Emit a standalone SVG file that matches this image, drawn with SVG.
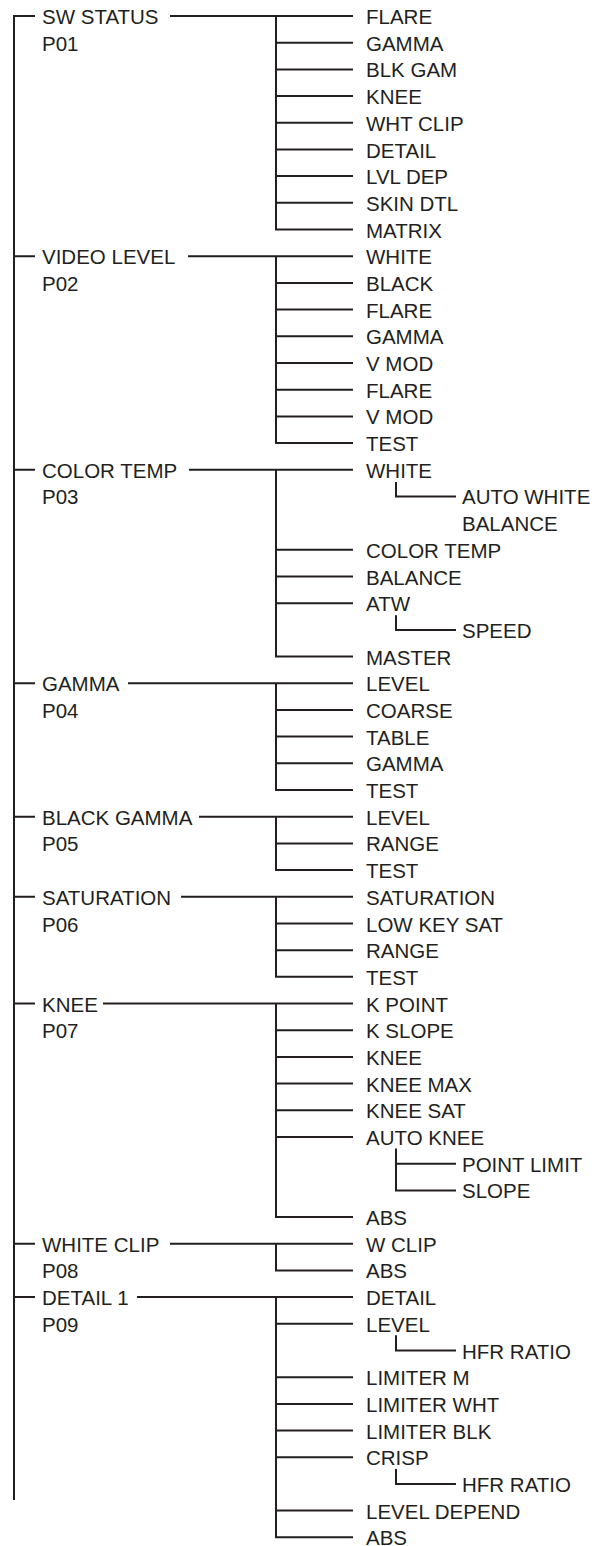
<svg xmlns="http://www.w3.org/2000/svg" width="602" height="1546" viewBox="0 0 602 1546">
<style>
.c{fill:none;stroke:#231f20;stroke-width:2;stroke-linejoin:miter;stroke-linecap:butt}
text{font-family:"Liberation Sans",Arial,Helvetica,sans-serif;font-size:20.5px;fill:#231f20}
</style>
<rect width="602" height="1546" fill="#fff"/>
<g id="connectors" class="c">
<!-- main trunk -->
<path d="M35 16H14V1500"/>
<path d="M14 256.2H35M14 469.7H35M14 683.3H35M14 816.7H35M14 896.8H35M14 1003.5H35M14 1243.7H35M14 1297.1H35"/>
<!-- P01 -->
<path d="M170 16H353M276 16V229.5H353M276 42.7H353M276 69.4H353M276 96.1H353M276 122.8H353M276 149.5H353M276 176.1H353M276 202.8H353"/>
<!-- P02 -->
<path d="M188 256.2H353M276 256.2V443H353M276 282.9H353M276 309.6H353M276 336.3H353M276 363H353M276 389.7H353M276 416.4H353"/>
<!-- P03 -->
<path d="M189 469.7H353M276 469.7V656.6H353M276 549.8H353M276 576.5H353M276 603.2H353"/>
<path d="M396 482V496.4H456M396 615.2V629.9H456"/>
<!-- P04 -->
<path d="M128 683.3H353M276 683.3V790H353M276 709.9H353M276 736.6H353M276 763.3H353"/>
<!-- P05 -->
<path d="M199 816.7H353M276 816.7V870.1H353M276 843.4H353"/>
<!-- P06 -->
<path d="M181 896.8H353M276 896.8V976.8H353M276 923.5H353M276 950.2H353"/>
<!-- P07 -->
<path d="M103 1003.5H353M276 1003.5V1217.1H353M276 1030.2H353M276 1056.9H353M276 1083.6H353M276 1110.3H353M276 1137H353"/>
<path d="M396 1148.5V1190.4H456M396 1163.7H456"/>
<!-- P08 -->
<path d="M170 1243.7H353M276 1243.7V1270.4H353"/>
<!-- P09 -->
<path d="M137 1297.1H353M276 1297.1V1537.3H353M276 1323.8H353M276 1377.2H353M276 1403.9H353M276 1430.6H353M276 1457.3H353M276 1510.6H353"/>
<path d="M396 1335.3V1350.5H456M396 1469V1484H456"/>
</g>
<g id="p01">
<text x="42" y="24">SW STATUS</text><text x="42" y="50.7">P01</text>
<text x="366" y="24">FLARE</text><text x="366" y="50.7">GAMMA</text><text x="366" y="77.4">BLK GAM</text><text x="366" y="104.1">KNEE</text><text x="366" y="130.8">WHT CLIP</text><text x="366" y="157.5">DETAIL</text><text x="366" y="184.1">LVL DEP</text><text x="366" y="210.8">SKIN DTL</text><text x="366" y="237.5">MATRIX</text>
</g>
<g id="p02">
<text x="42" y="264.2">VIDEO LEVEL</text><text x="42" y="290.9">P02</text>
<text x="366" y="264.2">WHITE</text><text x="366" y="290.9">BLACK</text><text x="366" y="317.6">FLARE</text><text x="366" y="344.3">GAMMA</text><text x="366" y="371">V MOD</text><text x="366" y="397.7">FLARE</text><text x="366" y="424.4">V MOD</text><text x="366" y="451">TEST</text>
</g>
<g id="p03">
<text x="42" y="477.7">COLOR TEMP</text><text x="42" y="504.4">P03</text>
<text x="366" y="477.7">WHITE</text><text x="462" y="504.4">AUTO WHITE</text><text x="462" y="531.1">BALANCE</text><text x="366" y="557.8">COLOR TEMP</text><text x="366" y="584.5">BALANCE</text><text x="366" y="611.2">ATW</text><text x="462" y="637.9">SPEED</text><text x="366" y="664.6">MASTER</text>
</g>
<g id="p04">
<text x="42" y="691.3">GAMMA</text><text x="42" y="717.9">P04</text>
<text x="366" y="691.3">LEVEL</text><text x="366" y="717.9">COARSE</text><text x="366" y="744.6">TABLE</text><text x="366" y="771.3">GAMMA</text><text x="366" y="798">TEST</text>
</g>
<g id="p05">
<text x="42" y="824.7">BLACK GAMMA</text><text x="42" y="851.4">P05</text>
<text x="366" y="824.7">LEVEL</text><text x="366" y="851.4">RANGE</text><text x="366" y="878.1">TEST</text>
</g>
<g id="p06">
<text x="42" y="904.8">SATURATION</text><text x="42" y="931.5">P06</text>
<text x="366" y="904.8">SATURATION</text><text x="366" y="931.5">LOW KEY SAT</text><text x="366" y="958.2">RANGE</text><text x="366" y="984.8">TEST</text>
</g>
<g id="p07">
<text x="42" y="1011.5">KNEE</text><text x="42" y="1038.2">P07</text>
<text x="366" y="1011.5">K POINT</text><text x="366" y="1038.2">K SLOPE</text><text x="366" y="1064.9">KNEE</text><text x="366" y="1091.6">KNEE MAX</text><text x="366" y="1118.3">KNEE SAT</text><text x="366" y="1145">AUTO KNEE</text><text x="462" y="1171.7">POINT LIMIT</text><text x="462" y="1198.4">SLOPE</text><text x="366" y="1225.1">ABS</text>
</g>
<g id="p08">
<text x="42" y="1251.7">WHITE CLIP</text><text x="42" y="1278.4">P08</text>
<text x="366" y="1251.7">W CLIP</text><text x="366" y="1278.4">ABS</text>
</g>
<g id="p09">
<text x="42" y="1305.1">DETAIL 1</text><text x="42" y="1331.8">P09</text>
<text x="366" y="1305.1">DETAIL</text><text x="366" y="1331.8">LEVEL</text><text x="462" y="1358.5">HFR RATIO</text><text x="366" y="1385.2">LIMITER M</text><text x="366" y="1411.9">LIMITER WHT</text><text x="366" y="1438.6">LIMITER BLK</text><text x="366" y="1465.3">CRISP</text><text x="462" y="1492">HFR RATIO</text><text x="366" y="1518.6">LEVEL DEPEND</text><text x="366" y="1545.3">ABS</text>
</g>
</svg>
